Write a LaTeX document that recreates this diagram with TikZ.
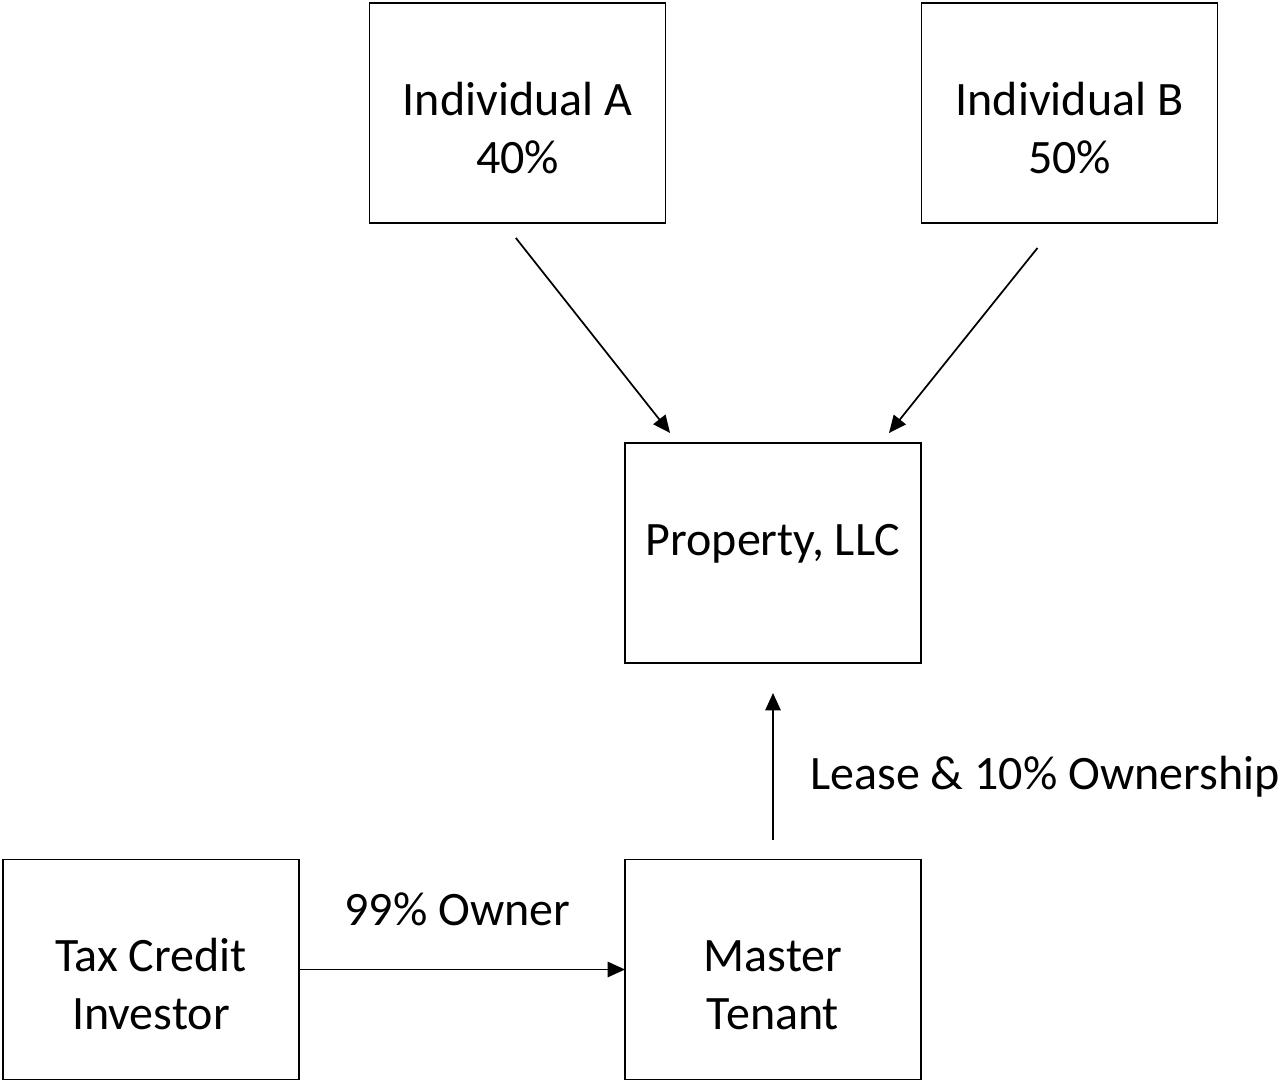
\documentclass[tikz,border=0pt]{standalone}
\usepackage{fontspec}
\setmainfont{Carlito}
\usepackage{tikz}
\usetikzlibrary{calc,
	arrows.meta,
	positioning
}
\tikzset{Owners/.style = {
		x=0.75pt, y=-0.75pt,
		every node/.style = {font=\fontsize{36}{43.5}\selectfont, inner sep=0pt, outer sep=0pt},
		entity/.style = {rectangle, draw, line width=1.3pt, align=center,
			minimum width=222pt, minimum height=165pt,
			text height=12pt, text depth=9pt},
		twoline/.style = {text height=95pt, text depth=5pt},
		share/.style = {line width=1.3pt, -{Triangle[length=13pt, width=11.5pt]}},
		sharelabel/.style = {anchor=base}
	}% end of Owners style
}

\begin{document}
\begin{tikzpicture}[Owners] % ownership chart
  \useasboundingbox (0,0) rectangle (1281,1081);
  \node[entity,twoline] (IndA) at (517.5,113) {Individual A\\40\%};
  \node[entity,twoline] (IndB) at (1069.5,113) {Individual B\\50\%};
  \node[entity] (Prop) at (773,553) {Property, LLC};
  \node[entity,twoline] (Tax) at (151,969.5) {Tax Credit\\Investor};
  \node[entity,twoline] (Master) at (773,969.5) {Master\\Tenant};

  % owners of the property
  \draw[share, shorten <=14.3pt, shorten >=9.6pt] ($(IndA.south)+(-13.5,0)$) -- ($(Prop.north west)+(53,0)$);
  \draw[share, shorten <=24pt, shorten >=9.6pt] ($(IndB.south)+(-12,0)$) -- ($(Prop.north east)+(-40,0)$);

  % master tenant
  \draw[share, shorten <=15pt, shorten >=22.5pt] (Master.north) -- (Prop.south);
  \node[sharelabel] (LeaseText) at (1045,789) {Lease \& 10\% Ownership};
  \draw[share] (Tax.east) -- (Master.west);
  \node[sharelabel] (OwnerText) at (457.5,925) {99\% Owner};
\end{tikzpicture}
\end{document}
